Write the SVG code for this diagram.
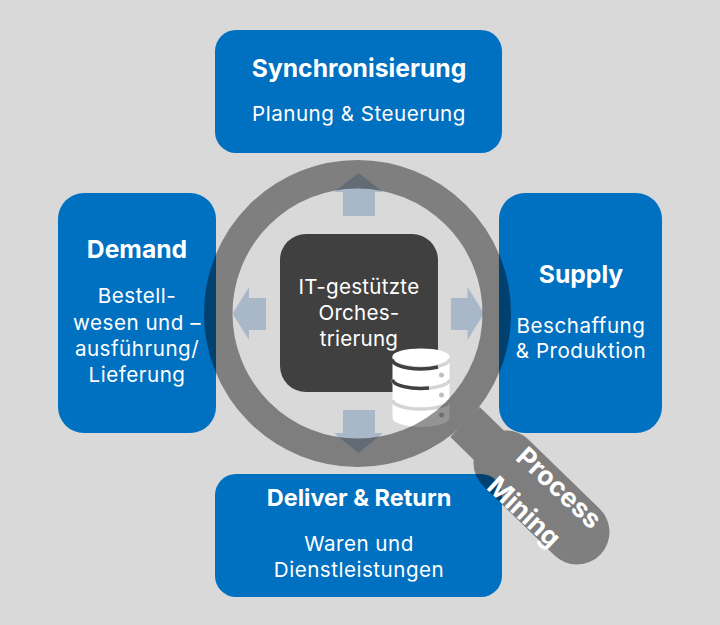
<svg xmlns="http://www.w3.org/2000/svg" width="720" height="625" viewBox="0 0 720 625">
<style>
.box{fill:#0070c0}
text{font-family:"Inter","Noto Sans","Liberation Sans",sans-serif;fill:#fff;text-anchor:middle}
.t{font-size:24.700px;font-weight:700}
.b{font-size:20.600px;letter-spacing:.5px}
.c{font-size:20.600px;letter-spacing:.25px}
.m{font-size:26.500px;font-weight:700}
.arrow{fill:#a9b8c9}
.disc{fill:#fff}
.band{fill:none;stroke:#d4d4d4;stroke-width:3.500}
.dark{fill:none;stroke:#404040;stroke-width:3.500}
.hole{fill:#bfbfbf}
.k{fill:none;stroke:#000}
</style>
<rect width="720" height="625" fill="#d9d9d9"/>
<g id="synchronisierung"><rect class="box" x="215" y="30" width="287" height="123" rx="21"/>
<text class="t" x="359" y="77">Synchronisierung</text><text class="b" x="359" y="121">Planung &amp; Steuerung</text></g>
<g id="demand"><rect class="box" x="58" y="193" width="158" height="240" rx="26"/>
<text class="t" x="137" y="258">Demand</text><text class="b" x="137" y="303">Bestell-</text><text class="b" x="137" y="330">wesen und –</text><text class="b" x="137" y="356">ausführung/</text><text class="b" x="137" y="382">Lieferung</text></g>
<g id="supply"><rect class="box" x="499" y="193" width="163" height="240" rx="26"/>
<text class="t" x="581" y="283">Supply</text><text class="b" x="581" y="333">Beschaffung</text><text class="b" x="581" y="358">&amp; Produktion</text></g>
<g id="deliver-return"><rect class="box" x="215" y="474" width="287" height="123" rx="21"/>
<text class="t" x="359" y="506" style="font-size:23.500px">Deliver &amp; Return</text><text class="b" x="359" y="551">Waren und</text><text class="b" x="359" y="577">Dienstleistungen</text></g>
<g id="connectors">
<polygon class="arrow" points="343,216 343,192 334,192 358.500,173 383,192 375,192 375,216"/>
<polygon class="arrow" points="266,298 249,298 249,287 232.500,313.500 249,340 249,330 266,330"/>
<polygon class="arrow" points="451,298 467.500,298 467.500,287 484,313.500 467.500,340 467.500,330 451,330"/>
<polygon class="arrow" points="343,410 343,433 334,433 358.500,453 383,433 375,433 375,410"/>
</g>
<g id="orchestrierung"><rect x="280" y="234" width="158" height="158" rx="26" fill="#404040"/>
<text class="c" x="359" y="294">IT-gestützte</text><text class="c" x="359" y="320">Orches-</text><text class="c" x="359" y="346">trierung</text></g>
<g id="database">
<path class="disc" d="M392.500,356V418A28.500,9 0 0 0 449.500,418V356z"/>
<path class="band" d="M392.500,359A28.500,9 0 0 0 449.500,359"/>
<path class="band" d="M392.500,379.500A28.500,9 0 0 0 449.500,379.500"/>
<path class="band" d="M392.500,400A28.500,9 0 0 0 449.500,400"/>
<path class="dark" d="M392.500,359A28.500,9 0 0 0 438,367"/>
<path class="dark" d="M392.500,379.500A28.500,9 0 0 0 429,388"/>
<ellipse class="disc" cx="421" cy="356" rx="28.500" ry="7.500"/>
<circle class="hole" cx="441.500" cy="375" r="2.500"/><circle class="hole" cx="441.500" cy="395" r="2.500"/><circle class="hole" cx="441.500" cy="415" r="2.500"/>
</g>
<g id="magnifier">
<g opacity=".415">
<circle class="k" cx="357.500" cy="313.500" r="139.250" stroke-width="28.500"/>
<line class="k" x1="465" y1="422" x2="505" y2="461" stroke-width="42"/>
<line class="k" x1="506" y1="463" x2="577" y2="532" stroke-width="65" stroke-linecap="round"/>
</g>
<text class="m" transform="translate(559,488) rotate(43)" y="9">Process</text>
<text class="m" transform="translate(524,512) rotate(43)" y="9">Mining</text>
</g>
</svg>
